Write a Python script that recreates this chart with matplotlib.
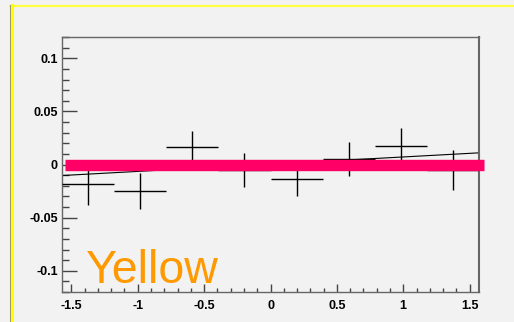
"""ROOT-style histogram with a fit line and a thick reference band."""

import matplotlib

matplotlib.use("Agg")
import matplotlib.pyplot as plt  # noqa: E402
from matplotlib.lines import Line2D  # noqa: E402
from matplotlib.ticker import FuncFormatter, MultipleLocator  # noqa: E402

# bin centres, contents and errors
x_centers = [-1.374, -0.982, -0.589, -0.196, 0.196, 0.589, 0.982, 1.374]
y_vals = [-0.0185, -0.025, 0.0166, -0.0056, -0.014, 0.0056, 0.0175, -0.005]
y_errs = [0.020, 0.017, 0.015, 0.016, 0.016, 0.016, 0.017, 0.019]
x_errs = [0.196] * 8

# linear fit p0 + p1*x and the pink reference line
fit_p0, fit_p1 = 0.0003, 0.0068
fit_range = [-1.5708, 1.5708]
band_y = 0.0
band_range = [-1.545, 1.606]
label_text = "Yellow"

plt.rcParams["font.family"] = ["Liberation Sans", "DejaVu Sans"]
plt.rcParams["axes.unicode_minus"] = False

BG = "#f2f2f2"
FRAME = "#666666"

fig = plt.figure(figsize=(5.14, 3.22), dpi=100, facecolor=BG)
ax = fig.add_axes([62 / 514, 30 / 322, 417 / 514, 255 / 322], facecolor=BG)

fx = fit_range
ax.plot(fx, [fit_p0 + fit_p1 * v for v in fx], color="black", lw=0.8, zorder=2)
ax.errorbar(x_centers, y_vals, yerr=y_errs, xerr=x_errs, fmt="none",
            ecolor="black", elinewidth=1.0, capsize=0, zorder=3)
ax.plot(band_range, [band_y, band_y], color="#ff0066", lw=8.2,
        solid_capstyle="butt", clip_on=False, zorder=4)

ax.text(-1.39, -0.1116, label_text, color="#ff9900", fontsize=33.5,
        ha="left", va="baseline", zorder=5)

ax.set_xlim(-1.5708, 1.5708)
ax.set_ylim(-0.12, 0.12)

ax.xaxis.set_major_locator(MultipleLocator(0.5))
ax.xaxis.set_minor_locator(MultipleLocator(0.1))
ax.yaxis.set_major_locator(MultipleLocator(0.05))
ax.yaxis.set_minor_locator(MultipleLocator(0.01))
fmt = FuncFormatter(lambda v, _: "0" if abs(v) < 1e-9 else f"{v:g}")
ax.xaxis.set_major_formatter(fmt)
ax.yaxis.set_major_formatter(fmt)

ax.tick_params(axis="both", which="both", direction="in", color="#444444",
               width=1.0, top=False, right=False, labelsize=9)
ax.tick_params(axis="x", which="major", length=5.5, pad=6)
ax.tick_params(axis="x", which="minor", length=3)
ax.tick_params(axis="y", which="major", length=10.5, pad=3)
ax.tick_params(axis="y", which="minor", length=5.2)
for lab in ax.get_xticklabels() + ax.get_yticklabels():
    lab.set_fontweight("bold")

for side, sp in ax.spines.items():
    sp.set_color(FRAME)
    sp.set_linewidth(1.5 if side == "right" else 1.0)

# yellow pad border on top and left
fig.add_artist(Line2D([9.5 / 514, 1], [1 - 6 / 322] * 2, color="#ffff44",
                      lw=1.6, transform=fig.transFigure))
fig.add_artist(Line2D([9.5 / 514] * 2, [0, 1 - 5 / 322], color="#999966",
                      lw=0.8, transform=fig.transFigure))
fig.add_artist(Line2D([11.5 / 514] * 2, [0, 1 - 5 / 322], color="#ffff00",
                      lw=2.2, transform=fig.transFigure))

fig.savefig("out.png", dpi=100, facecolor=BG)
plt.close(fig)
